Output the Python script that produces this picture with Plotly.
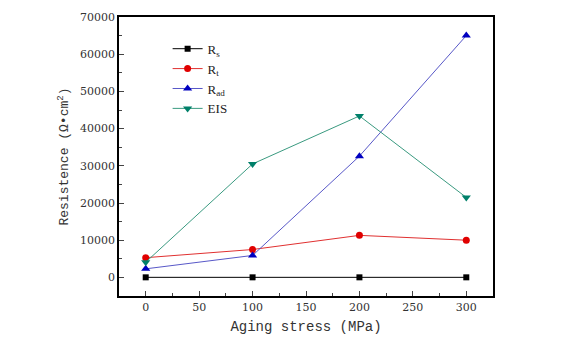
import plotly.graph_objects as go

stress = [0, 100, 200, 300]
rs = [20, 20, 20, 20]
rt = [5300, 7500, 11300, 10000]
rad = [2300, 5900, 32600, 65000]
eis = [4100, 30500, 43400, 21500]

x_ticks = [0, 50, 100, 150, 200, 250, 300]
y_ticks = [0, 10000, 20000, 30000, 40000, 50000, 60000, 70000]
y_labels = [str(v) for v in y_ticks]
x_labels = [str(v) for v in x_ticks]

fig = go.Figure()
series = [
    ("R<sub>s</sub>", rs, "#000000", "#000000", "square", 6),
    ("R<sub>t</sub>", rt, "#e03030", "#e00000", "circle", 7),
    ("R<sub>ad</sub>", rad, "#5858c8", "#0000c0", "triangle-up", 8),
    ("EIS", eis, "#3a9a80", "#00806a", "triangle-down", 8),
]
for name, vals, lc, mc, sym, sz in series:
    fig.add_trace(go.Scatter(
        x=stress, y=vals, name=name, mode="lines+markers",
        line=dict(color=lc, width=1),
        marker=dict(color=mc, symbol=sym, size=sz),
    ))

tickfont = dict(family="DejaVu Serif", size=11, color="#333333")
fig.update_layout(
    width=565, height=347,
    margin=dict(l=119, r=72, t=17, b=51),
    paper_bgcolor="white", plot_bgcolor="white",
    showlegend=True,
    legend=dict(x=0.13, y=0.94, xanchor="left", yanchor="top",
                bgcolor="rgba(0,0,0,0)", font=dict(family="Liberation Serif", size=13, color="#222"),
                tracegroupgap=0, itemwidth=30),
    xaxis=dict(range=[-25, 325], tickvals=x_ticks, ticktext=x_labels, ticks="inside", ticklen=5,
               minor=dict(ticks="inside", ticklen=3, dtick=25, showgrid=False),
               showline=True, linecolor="black", linewidth=1.5, mirror=True,
               showgrid=False, zeroline=False, tickfont=tickfont,
               title=dict(text="Aging stress (MPa)", font=dict(family="Liberation Mono", size=14, color="#333"), standoff=8)),
    yaxis=dict(range=[-5000, 70000], tickvals=y_ticks, ticktext=y_labels, ticks="inside", ticklen=5,
               minor=dict(ticks="inside", ticklen=3, dtick=5000, showgrid=False),
               showline=True, linecolor="black", linewidth=1.5, mirror=True,
               showgrid=False, zeroline=False, tickfont=tickfont,
               title=dict(text="Resistence (Ω•cm<sup>2</sup>)", font=dict(family="Liberation Mono", size=13, color="#333"), standoff=8)),
)
fig.write_html("out.html")
